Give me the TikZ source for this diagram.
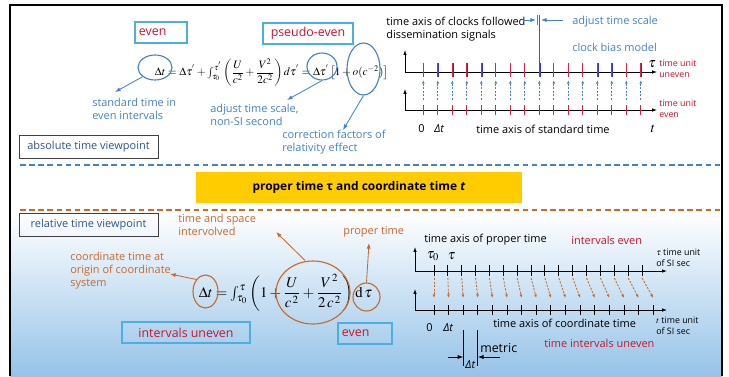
\documentclass[tikz,border=0pt]{standalone}
\usepackage{amsmath,amssymb}
\usepackage{mathptmx}
\usepackage[no-math]{fontspec}
\setmainfont{Open Sans}
\usetikzlibrary{arrows.meta, shapes.geometric}

\definecolor{boxblue}{RGB}{75,175,225}
\definecolor{txtred}{RGB}{200,20,45}
\definecolor{annblue}{RGB}{70,130,195}
\definecolor{viewblue}{RGB}{45,85,140}
\definecolor{annorange}{RGB}{200,105,45}
\definecolor{titleyellow}{RGB}{255,204,0}
\definecolor{bgblue}{RGB}{150,195,232}
\definecolor{tickred}{RGB}{215,35,70}
\definecolor{tickblue}{RGB}{50,50,195}

\begin{document}
\begin{tikzpicture}[x=0.025cm, y=-0.025cm,
  note/.style={font=\fontsize{7.8}{9.3}\selectfont, align=left, anchor=west, inner sep=0pt},
  small/.style={font=\fontsize{6.3}{7.6}\selectfont, align=left, anchor=west, inner sep=0pt},
  redbox/.style={draw=boxblue, line width=0.9pt, text=txtred, font=\fontsize{8.8}{10}\selectfont, minimum height=0.525cm, inner sep=0pt},
  viewbox/.style={draw=black!75, line width=0.6pt, text=viewblue, font=\fontsize{7.8}{9}\selectfont, minimum width=3.475cm, minimum height=0.575cm, inner sep=0pt},
  ring/.style={ellipse, draw, line width=0.8pt, inner sep=0pt},
  tip/.style={-{Latex[length=4pt,width=3pt]}, line width=0.6pt},
  axis/.style={-{Latex[length=3.5pt,width=2.5pt]}, line width=0.6pt},
  dtip/.style={-{Latex[length=2.6pt,width=2pt]}, line width=0.6pt, dash pattern=on 1.5pt off 1pt},
]
\useasboundingbox (0,0) rectangle (729,376);
\shade[top color=white, bottom color=bgblue] (10,212) rectangle (722,376);
\draw[line width=1.2pt] (10,376) -- (10,5) -- (722,5) -- (722,376);
\draw[annblue, line width=1pt, dash pattern=on 4pt off 2.5pt] (20,165) -- (721,165);
\draw[annorange, line width=1pt, dash pattern=on 4pt off 2.5pt] (20,210) -- (721,210);
\node[fill=titleyellow, minimum width=8.15cm, minimum height=0.775cm, font=\fontsize{8.5}{9}\selectfont\bfseries] (title) at (359,187.5) {proper time τ and coordinate time \textit{t}};

\node[viewbox] (absview) at (88.5,146.5) {absolute time viewpoint};
\node[viewbox] (relview) at (88.5,224.5) {relative time viewpoint};

\node[redbox, minimum width=1.3cm, text width=1.1cm, align=left] (evenA) at (161,32.5) {even};
\node[redbox, minimum width=2.25cm] (pseudo) at (308,33.5) {pseudo-even};
\node (eqabs) at (271.5,72.5) {\resizebox{5.83cm}{!}{$\Delta t = \Delta\tau^{'} + \int_{\tau_0}^{\tau^{'}}\left(\dfrac{U}{c^2}+\dfrac{V^2}{2c^2}\right)d\tau^{'} = \Delta\tau^{'}\left[1+o(c^{-2})\right]$}};
\node[ring, draw=annblue, minimum width=0.85cm, minimum height=0.625cm] (dtring) at (155,67.5) {};
\node[ring, draw=annblue, minimum width=0.75cm, minimum height=0.675cm] (tauring) at (322,66.5) {};
\node[ring, draw=annblue, minimum width=0.825cm, minimum height=1.3cm] (corring) at (363.5,69) {};
\node[note, text=annblue] (stdtxt) at (92,108.5) {standard time in\\even intervals};
\node[note, text=annblue] (adjtxt) at (210,114.5) {adjust time scale,\\non-SI second};
\node[note, text=annblue] (cortxt) at (282,142.5) {correction factors of\\relativity effect};
\coordinate (stdtip) at (115,92);
\coordinate (adjtip) at (287,100);
\coordinate (cortip) at (343,130);
\draw[tip, annblue] (dtring.south west) -- (stdtip);
\draw[tip, annblue] (tauring.south) -- (adjtip);
\draw[tip, annblue] (corring.south) -- (cortip);

\node[note, anchor=north west] (clkax) at (386,17) {time axis of clocks followed\\dissemination signals};
\node[note, text=annblue] (adjscale) at (572,22) {adjust time scale};
\node[note, text=annblue] (biasmod) at (572,47) {clock bias model};
\draw[axis] (405,72) -- (405,50);
\draw[axis] (405,72) -- (657,72);
\draw[axis] (405,110) -- (405,89);
\draw[axis] (405,110) -- (657,110);
\foreach \i [evaluate=\i as \x using 423.3+14.5*\i] in {0,...,15} {
\draw[tickred, line width=0.8pt] (\x,63) -- (\x,77);
\draw[tickred, line width=0.8pt] (\x,105) -- (\x,115);
\draw[dtip, annblue] (\x,100) -- (\x,80);
}
\foreach \i [evaluate=\i as \x using 424.4+14.5*\i] in {1,2,3,4,8,12,13,15} {
\draw[tickblue, line width=0.7pt] (\x,63) -- (\x,77);
}
\draw[tickred, line width=0.8pt] (539.3,15) -- (539.3,77);
\draw[annblue, line width=0.6pt] (537,15) -- (537,25);
\coordinate (scl) at (536,20);
\coordinate (scr) at (541,20);
\draw[tip, annblue] (523,20) -- (scl);
\draw[tip, annblue] (adjscale.west) ++(-9,-2) -- (scr);
\node[inner sep=0pt] (tauA) at (652,64) {$\tau$};
\node[small, text=txtred] (uneven) at (659,69) {time unit\\uneven};
\node[small, text=txtred] (evenB) at (659,109) {time unit\\even};
\node[note] (zeroA) at (418,129) {0};
\node[note] (dtA) at (434,129) {\textit{Δt}};
\node[note] (stdax) at (476,129) {time axis of standard time};
\node[inner sep=0pt] (tA) at (653,129) {$t$};

\node[note, text=annorange] (tstxt) at (178,225) {time and space\\intervolved};
\node[note, text=annorange] (proptxt) at (343,232) {proper time};
\node[note, text=annorange] (origtxt) at (70,271) {coordinate time at\\origin of coordinate\\system};
\node (eqrel) at (285.5,293) {\resizebox{4.33cm}{!}{$\Delta t = \int_{\tau_0}^{\tau}\left(1+\dfrac{U}{c^{\,2}}+\dfrac{V^{\,2}}{2\,c^{\,2}}\right)\mathrm{d}\,\tau$}};
\node[ring, draw=annorange, minimum width=0.625cm, minimum height=0.825cm] (dtringB) at (205.5,291.5) {};
\node[ring, draw=annorange, minimum width=1.85cm, minimum height=1.575cm] (fracring) at (313,292.5) {};
\node[ring, draw=annorange, minimum width=0.675cm, minimum height=0.7cm] (dtauring) at (366.5,297) {};
\coordinate (origtip) at (170,274);
\coordinate (tstip) at (276,232);
\coordinate (proptip) at (369,243);
\draw[tip, annorange] (dtringB.north west) -- (origtip);
\draw[tip, annorange] (fracring.north) ++(-8,0) -- (tstip);
\draw[tip, annorange] (dtauring.north) -- (proptip);
\node[redbox, minimum width=3.2cm] (ivuneven) at (186,332.5) {intervals uneven};
\node[redbox, minimum width=1.35cm, text width=1.15cm, align=left] (evenC) at (365,333.5) {even};

\node[note] (propax) at (424,239.5) {time axis of proper time};
\node[note, text=txtred] (iveven) at (571,240) {intervals even};
\draw[axis] (415,271) -- (415,247);
\draw[axis] (415,271) -- (667,271);
\draw[axis] (415,310) -- (415,289);
\draw[axis] (415,310) -- (667,310);
\foreach \i [evaluate=\i as \xu using 434+13.87*\i, evaluate=\i as \xl using 434+14.62*\i] in {0,...,15} {
\draw[line width=0.7pt] (\xu,265) -- (\xu,276);
\draw[line width=0.7pt] (\xl,305) -- (\xl,315);
\draw[dtip, annorange] (\xu,278) -- (\xl,298);
}
\node[inner sep=0pt] (tau0) at (433,256.5) {$\tau_{0}$};
\node[inner sep=0pt] (tauB) at (451.5,256) {$\tau$};
\node[small] (siA) at (656,258) {$\tau$ time unit\\of SI sec};
\node[note] (zeroB) at (426,328) {0};
\node[note] (dtB) at (443,328) {\textit{Δt}};
\node[note] (coordax) at (493,323) {time axis of coordinate time};
\node[small] (siB) at (656,326) {$t$ time unit\\of SI sec};
\node[note, text=txtred] (tiuneven) at (544,343) {time intervals uneven};
\draw[line width=0.7pt] (463.2,330) -- (463.2,366);
\draw[line width=0.7pt] (477.9,330) -- (477.9,366);
\node[note, font=\fontsize{8.8}{10}\selectfont] (metric) at (480,348) {metric};
\coordinate (mtl) at (463.2,357);
\coordinate (mtr) at (477.9,357);
\draw[tip] (448,357) -- (mtl);
\draw[tip] (500,357) -- (mtr);
\node[inner sep=0pt, font=\fontsize{7.8}{9}\selectfont] (dtmetric) at (470.5,365) {\textit{Δt}};
\end{tikzpicture}
\end{document}
